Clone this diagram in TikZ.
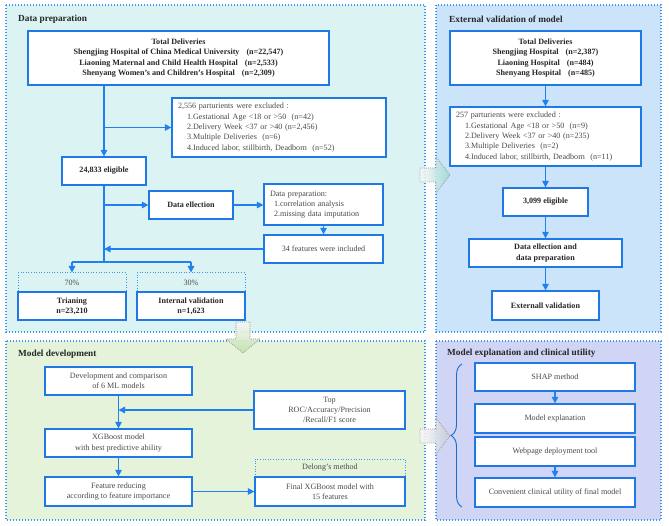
\documentclass[tikz,border=0pt]{standalone}
\usepackage{fontspec}
\setmainfont{Liberation Serif}
\usetikzlibrary{arrows.meta,decorations.pathreplacing,calc}
\definecolor{pcyan}{HTML}{DCF3F3}
\definecolor{pblue}{HTML}{CCE4FA}
\definecolor{pgreen}{HTML}{E4F3DA}
\definecolor{plav}{HTML}{D0D4F5}
\definecolor{pborder}{HTML}{3C96F0}
\definecolor{bblue}{HTML}{1E78E6}
\definecolor{ablue}{HTML}{2080F0}
\definecolor{txt}{HTML}{4A4A4A}
\definecolor{txtb}{HTML}{262626}
\definecolor{agreen}{HTML}{BFE0A8}
\definecolor{ateal}{HTML}{9ED9D4}
\definecolor{agray}{HTML}{C4CCD8}
\newcommand{\myfs}{\fontsize{8.1}{10.3}\selectfont}
\newcommand{\mytfs}{\fontsize{9.3}{11}\selectfont}
\newcommand{\pg}{\hspace*{7pt}}
\begin{document}
\begin{tikzpicture}[x=1pt,y=-1pt,
  panel/.style={draw=pborder, line width=1.2pt, dash pattern=on 1.2pt off 1.8pt},
  box/.style={draw=bblue, line width=1.3pt, fill=white, inner sep=0pt, align=center, font=\myfs, text=txt},
  bbox/.style={box, font=\myfs\bfseries, text=txtb},
  dbox/.style={draw=pborder, line width=1pt, dash pattern=on 1pt off 1.6pt, inner sep=0pt, font=\myfs, text=txt},
  arr/.style={draw=ablue, line width=1.3pt, -{Triangle[length=6.5pt,width=6.5pt]}},
  ln/.style={draw=ablue, line width=1.3pt},
  ttl/.style={anchor=west, font=\mytfs\bfseries, text=txtb, inner sep=0pt},
  bigarr/.style={draw=gray!80, line width=0.8pt, dash pattern=on 0.8pt off 1.2pt}
]
\useasboundingbox (0,0) rectangle (669,526);
% panels
\path[panel, fill=pcyan] (6,5) rectangle (425,332);
\path[panel, fill=pblue] (436,5) rectangle (661,332);
\path[panel, fill=pgreen] (6,341) rectangle (425,520);
\path[panel, fill=plav] (436,341) rectangle (661,520);
% titles
\node[ttl] (t1) at (18,19) {Data preparation};
\node[ttl] (t2) at (449,19) {External validation of model};
\node[ttl] (t3) at (18,354) {Model development};
\node[ttl] (t4) at (447,353) {Model explanation and clinical utility};

% ---- Data preparation
\node[bbox, minimum width=301, minimum height=54] (tot1) at (178.5,58)
  {Total Deliveries\\Shengjing Hospital of China Medical University\pg(n=22,547)\\Liaoning Maternal and Child Health Hospital\pg(n=2,533)\\Shenyang Women's and Children's Hospital\pg(n=2,309)};
\node[box, minimum width=214, minimum height=59, text width=202, inner xsep=6pt, align=left] (excl1) at (279,127.5)
  {2,556 parturients were excluded :\\
   \hspace*{9pt}1.Gestational Age <18 or >50~~(n=42)\\
   \hspace*{9pt}2.Delivery Week <37 or >40 (n=2,456)\\
   \hspace*{9pt}3.Multiple Deliveries~~(n=6)\\
   \hspace*{9pt}4.Induced labor, stillbirth, Deadborn~~(n=52)};
\node[bbox, minimum width=84, minimum height=28] (elig1) at (104,171) {24,833 eligible};
\node[bbox, minimum width=84, minimum height=28] (dcol1) at (191,205) {Data ellection};
\node[box, minimum width=119, minimum height=41, text width=107, inner xsep=6pt, align=left] (dprep1) at (323.5,204.5)
  {Data preparation:\\\hspace*{4pt}1.correlation analysis\\\hspace*{4pt}2.missing data imputation};
\node[box, minimum width=119, minimum height=28] (feat) at (323.5,249) {34 features were included};
\node[dbox, minimum width=108, minimum height=19] (p70) at (72,282.5) {70\%};
\node[bbox, minimum width=108, minimum height=28] (train) at (72,306) {Trianing\\n=23,210};
\node[dbox, minimum width=108, minimum height=19] (p30) at (191,282.5) {30\%};
\node[bbox, minimum width=108, minimum height=28] (intv) at (191,306) {Internal validation\\n=1,623};
\coordinate (split) at (104,262);

\draw[arr] (tot1.south -| elig1) -- (elig1.north);
\draw[arr] (excl1.west -| elig1) -- (excl1.west);
\draw[ln] (elig1.south) -- (split);
\draw[arr] (dcol1.west -| elig1) -- (dcol1.west);
\draw[arr] (dcol1.east) -- (dcol1.east -| dprep1.west);
\draw[arr] (dprep1.south) -- (feat.north);
\draw[arr] (feat.west) -- (feat.west -| elig1);
\draw[ln] (split -| p70) -- (split -| p30);
\draw[arr] (split -| p70) -- (p70.north);
\draw[arr] (split -| p30) -- (p30.north);

% ---- External validation
\node[bbox, minimum width=191, minimum height=54] (tot2) at (545.5,58)
  {Total Deliveries\\Shengjing Hospital\pg(n=2,387)\\Liaoning Hospital\pg(n=484)\\Shenyang Hospital\pg(n=485)};
\node[box, minimum width=191, minimum height=59, text width=179, inner xsep=6pt, align=left] (excl2) at (545.5,136.5)
  {257 parturients were excluded :\\
   \hspace*{9pt}1.Gestational Age <18 or >50~~(n=9)\\
   \hspace*{9pt}2.Delivery Week <37 or >40 (n=235)\\
   \hspace*{9pt}3.Multiple Deliveries~~(n=2)\\
   \hspace*{9pt}4.Induced labor, stillbirth, Deadborn~~(n=11)};
\node[bbox, minimum width=85, minimum height=28] (elig2) at (545.5,202) {3,099 eligible};
\node[bbox, minimum width=153, minimum height=28] (dcol2) at (545.5,253) {Data ellection and\\data preparation};
\node[bbox, minimum width=107, minimum height=29] (ext) at (545.5,305.5) {Externall validation};
\draw[arr] (tot2.south) -- (excl2.north);
\draw[arr] (excl2.south) -- (elig2.north);
\draw[arr] (elig2.south) -- (dcol2.north);
\draw[arr] (dcol2.south) -- (ext.north);

% ---- Model development
\node[box, minimum width=147, minimum height=28] (dev) at (118.5,381) {Development and comparison\\of 6 ML models};
\node[box, minimum width=151, minimum height=38] (top) at (329.5,410) {Top\\ROC/Accuracy/Precision\\/Recall/F1 score};
\node[box, minimum width=147, minimum height=28] (xgb) at (118.5,443) {XGBoost model\\with best predictive ability};
\node[box, minimum width=147, minimum height=29] (fred) at (118.5,491.5) {Feature reducing\\according to feature importance};
\node[dbox, minimum width=150, minimum height=18] (delong) at (330,468) {Delong's method};
\node[box, minimum width=150, minimum height=29] (final) at (330,491.5) {Final XGBoost model with\\15 features};
\draw[arr] (dev.south) -- (xgb.north);
\draw[arr] (top.west) -- (top.west -| dev);
\draw[arr] (xgb.south) -- (fred.north);
\draw[arr] (fred.east) -- (fred.east -| final.west);

% ---- Model explanation
\node[box, minimum width=160, minimum height=28] (shap) at (555,377) {SHAP method};
\node[box, minimum width=160, minimum height=29] (mexp) at (555,418.5) {Model explanation};
\node[box, minimum width=160, minimum height=29] (web) at (555,451.5) {Webpage deployment tool};
\node[box, minimum width=160, minimum height=29] (conv) at (555,492.5) {Convenient clinical utility of final model};
\draw[arr] (shap.south) -- (mexp.north);
\draw[arr] (web.south) -- (conv.north);
\draw[draw=ablue!85!black, line width=0.9pt, decorate, decoration={brace, amplitude=11pt}] (462,507) -- (462,364);

% ---- big arrows
\shade[left color=gray!6, right color=ateal, opacity=0.9]
  (420,168) -- (436,168) -- (436,157) -- (450,175) -- (436,193) -- (436,182) -- (420,182) -- cycle;
\draw[bigarr] (420,168) -- (436,168) -- (436,157) -- (450,175) -- (436,193) -- (436,182) -- (420,182) -- cycle;
\shade[left color=gray!6, right color=agray, opacity=0.9]
  (420,429) -- (436,429) -- (436,418) -- (450,436) -- (436,454) -- (436,443) -- (420,443) -- cycle;
\draw[bigarr] (420,429) -- (436,429) -- (436,418) -- (450,436) -- (436,454) -- (436,443) -- (420,443) -- cycle;
\shade[top color=gray!6, bottom color=agreen, opacity=0.9]
  (236,322) -- (250,322) -- (250,339) -- (260,339) -- (243,353) -- (226,339) -- (236,339) -- cycle;
\draw[bigarr] (236,322) -- (250,322) -- (250,339) -- (260,339) -- (243,353) -- (226,339) -- (236,339) -- cycle;
\end{tikzpicture}
\end{document}
